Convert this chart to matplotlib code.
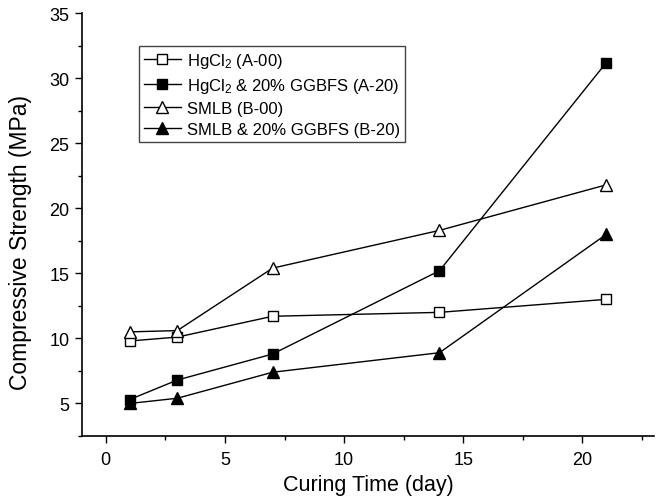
import matplotlib
matplotlib.use("Agg")
import matplotlib.pyplot as plt
from matplotlib.ticker import MultipleLocator

plt.rcParams["font.family"] = ["Liberation Sans", "DejaVu Sans"]
plt.rcParams["mathtext.fontset"] = "custom"
plt.rcParams["mathtext.rm"] = "Liberation Sans"
plt.rcParams["mathtext.it"] = "Liberation Sans:italic"

# Curing time (days) and compressive strength (MPa)
curing_days = [1, 3, 7, 14, 21]
a00 = [9.8, 10.1, 11.7, 12.0, 13.0]
a20 = [5.3, 6.8, 8.8, 15.2, 31.2]
b00 = [10.5, 10.6, 15.4, 18.3, 21.8]
b20 = [5.0, 5.4, 7.4, 8.9, 18.0]

labels = [
    "HgCl$_2$ (A-00)",
    "HgCl$_2$ & 20% GGBFS (A-20)",
    "SMLB (B-00)",
    "SMLB & 20% GGBFS (B-20)",
]

fig = plt.figure(figsize=(6.6, 5.02), dpi=100)
ax = fig.add_axes([0.1242, 0.1295, 0.8667, 0.8425])

common = dict(color="black", lw=1.0, mec="black", mew=1.0)
ax.plot(curing_days, a00, marker="s", ms=7.5, mfc="white", label=labels[0], **common)
ax.plot(curing_days, a20, marker="s", ms=7.5, mfc="black", label=labels[1], **common)
ax.plot(curing_days, b00, marker="^", ms=9, mfc="white", label=labels[2], **common)
ax.plot(curing_days, b20, marker="^", ms=9, mfc="black", label=labels[3], **common)

ax.set_xlim(-1, 23)
ax.set_ylim(2.5, 35)
ax.xaxis.set_major_locator(MultipleLocator(5))
ax.xaxis.set_minor_locator(MultipleLocator(2.5))
ax.yaxis.set_major_locator(MultipleLocator(5))
ax.yaxis.set_minor_locator(MultipleLocator(2.5))
ax.set_yticks([5, 10, 15, 20, 25, 30, 35])

for side in ("top", "right"):
    ax.spines[side].set_visible(False)
for side in ("left", "bottom"):
    ax.spines[side].set_linewidth(1.2)

ax.tick_params(which="major", direction="out", length=5, width=1.0,
               labelsize=13, colors="black")
ax.tick_params(axis="x", which="major", pad=6)
ax.tick_params(axis="y", which="major", pad=4)
ax.tick_params(which="minor", direction="out", length=3, width=1.0)

ax.set_xlabel("Curing Time (day)", fontsize=15.5)
ax.set_ylabel("Compressive Strength (MPa)", fontsize=16.5)
ax.xaxis.set_label_coords(0.5, -0.09)
ax.yaxis.set_label_coords(-0.087, 0.461)

leg = ax.legend(loc="upper left", bbox_to_anchor=(0.0997, 0.922),
                borderaxespad=0, fancybox=False, framealpha=1,
                edgecolor="#444444", fontsize=12, handlelength=2.2,
                handletextpad=0.4, labelspacing=0.35, borderpad=0.3)
leg.get_frame().set_linewidth(1.0)

fig.savefig("out.png", dpi=100)
